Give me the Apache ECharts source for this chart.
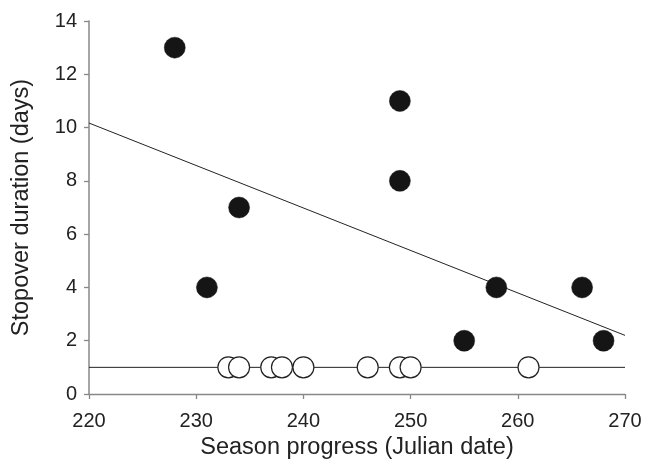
<!DOCTYPE html>
<html><head><meta charset="utf-8">
<script src="https://cdn.jsdelivr.net/npm/echarts@6/dist/echarts.min.js"></script>
<style>html,body{margin:0;padding:0;background:#fff}#c{width:646px;height:465px}</style>
</head><body><div id="c"></div>
<script>
const filledX = [228, 231, 234, 249, 249, 255, 258, 266, 268];
const filledY = [13, 4, 7, 11, 8, 2, 4, 4, 2];
const openX = [233, 234, 237, 238, 240, 246, 249, 250, 261];
const openY = [1, 1, 1, 1, 1, 1, 1, 1, 1];
const trendX = [220, 270];
const trendY = [10.17, 2.2];
const flatX = [220, 270];
const flatY = [1, 1];
const xTicks = [220, 230, 240, 250, 260, 270];
const yTicks = [0, 2, 4, 6, 8, 10, 12, 14];

const zip = (a, b) => a.map((v, i) => [v, b[i]]);
const chart = echarts.init(document.getElementById('c'));
const font = 'Liberation Sans, Arial, sans-serif';
chart.setOption({
  animation: false,
  grid: {left: 89, right: 21, top: 21, bottom: 71},
  xAxis: {
    type: 'value', min: xTicks[0], max: xTicks[xTicks.length - 1], interval: 10,
    name: 'Season progress (Julian date)', nameLocation: 'middle', nameGap: 42,
    nameTextStyle: {fontFamily: font, fontSize: 23.5, color: '#222'},
    axisLine: {onZero: false, lineStyle: {color: '#888', width: 1.3}},
    axisTick: {length: 5, lineStyle: {color: '#888', width: 1.3}},
    axisLabel: {fontFamily: font, fontSize: 20, color: '#222', margin: 17},
    splitLine: {show: false}
  },
  yAxis: {
    type: 'value', min: yTicks[0], max: yTicks[yTicks.length - 1], interval: 2,
    name: 'Stopover duration (days)', nameLocation: 'middle', nameGap: 55,
    nameTextStyle: {fontFamily: font, fontSize: 23.5, color: '#222'},
    axisLine: {show: true, lineStyle: {color: '#888', width: 1.5}},
    axisTick: {show: true, length: 5, lineStyle: {color: '#888', width: 1.3}},
    axisLabel: {fontFamily: font, fontSize: 20, color: '#222', margin: 12},
    splitLine: {show: false}
  },
  series: [
    {type: 'line', data: zip(flatX, flatY), symbol: 'none', lineStyle: {color: '#222', width: 1}, z: 1},
    {type: 'line', data: zip(trendX, trendY), symbol: 'none', lineStyle: {color: '#222', width: 1}, z: 1},
    {type: 'scatter', data: zip(openX, openY), symbolSize: 21,
     itemStyle: {color: '#fff', borderColor: '#222', borderWidth: 1.2, opacity: 1}, z: 3},
    {type: 'scatter', data: zip(filledX, filledY), symbolSize: 21,
     itemStyle: {color: '#151515', borderColor: '#151515', borderWidth: 0.5, opacity: 1}, z: 3}
  ]
});
</script></body></html>
